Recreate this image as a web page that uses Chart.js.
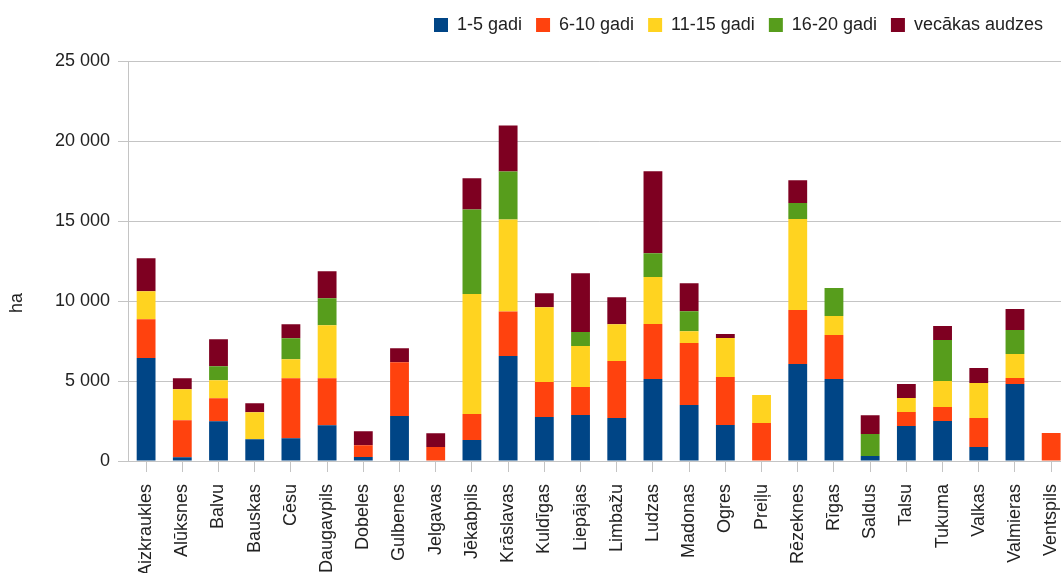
<!DOCTYPE html>
<html>
<head>
<meta charset="utf-8">
<script src="https://cdn.jsdelivr.net/npm/chart.js@4.4.1/dist/chart.umd.min.js"></script>
<style>
  html, body { margin: 0; padding: 0; background: #ffffff; }
  #wrap { width: 1061px; height: 573px; overflow: hidden; position: relative; }
  canvas { display: block; }
</style>
</head>
<body>
<div id="wrap"><canvas id="chart" width="1085" height="573"></canvas></div>
<script>
// Meža platība (ha) pa vecuma grupām un virsmežniecībām
const categories = ['Aizkraukles', 'Alūksnes', 'Balvu', 'Bauskas', 'Cēsu', 'Daugavpils', 'Dobeles',
  'Gulbenes', 'Jelgavas', 'Jēkabpils', 'Krāslavas', 'Kuldīgas', 'Liepājas', 'Limbažu', 'Ludzas',
  'Madonas', 'Ogres', 'Preiļu', 'Rēzeknes', 'Rīgas', 'Saldus', 'Talsu', 'Tukuma', 'Valkas',
  'Valmieras', 'Ventspils'];

const age1to5   = [6440, 230, 2480, 1360, 1420, 2230, 250, 2810, 0, 1310, 6560, 2750, 2875, 2690, 5125, 3500, 2250, 0, 6060, 5125, 310, 2190, 2500, 875, 4810, 0];
const age6to10  = [2420, 2310, 1440, 0, 3750, 2940, 730, 3360, 875, 1625, 2790, 2190, 1750, 3560, 3440, 3875, 3000, 2375, 3375, 2750, 0, 875, 875, 1810, 375, 1750];
const age11to15 = [1750, 1940, 1125, 1690, 1190, 3310, 0, 0, 0, 7500, 5750, 4670, 2560, 2290, 2940, 730, 2440, 1750, 5690, 1190, 0, 875, 1625, 2190, 1500, 0];
const age16to20 = [0, 0, 875, 0, 1310, 1690, 0, 0, 0, 5290, 3000, 0, 875, 0, 1480, 1250, 0, 0, 1000, 1750, 1375, 0, 2560, 0, 1500, 0];
const older     = [2060, 690, 1690, 560, 875, 1690, 875, 875, 855, 1940, 2875, 875, 3670, 1690, 5125, 1750, 250, 0, 1420, 0, 1170, 875, 875, 940, 1310, 0];

const seriesNames = ['1-5 gadi', '6-10 gadi', '11-15 gadi', '16-20 gadi', 'vecākas audzes'];
const seriesColors = ['#004586', '#ff420e', '#ffd320', '#579d1c', '#7e0021'];
const yTicks = [0, 5000, 10000, 15000, 20000, 25000];
const yTitle = 'ha';

const FONT = '"Liberation Sans", Arial, sans-serif';
const TEXT = '#222222';
const GRID = '#c4c4c4';

Chart.defaults.font.family = FONT;
Chart.defaults.font.size = 18;
Chart.defaults.color = TEXT;

const seriesData = [age1to5, age6to10, age11to15, age16to20, older];

function groupThousands(v) {
  return String(v).replace(/\B(?=(\d{3})+(?!\d))/g, ' ');
}

// Legend sits at the top right, ending before the canvas edge
const legendPlacement = {
  id: 'legendPlacement',
  afterInit(chart) {
    const lg = chart.legend;
    const fit = lg.fit.bind(lg);
    lg.fit = function () { fit(); this.height = 61; };
  },
  afterLayout(chart) {
    const lg = chart.legend;
    const shift = 1057 - lg.right;
    lg.left += shift;
    lg.right += shift;
    lg.top += 2;
  }
};

// Vertical axis title
const axisTitle = {
  id: 'axisTitle',
  afterDraw(chart) {
    const ctx = chart.ctx;
    ctx.save();
    ctx.translate(17, 303);
    ctx.rotate(-Math.PI / 2);
    ctx.font = '18px ' + FONT;
    ctx.fillStyle = TEXT;
    ctx.textAlign = 'center';
    ctx.textBaseline = 'middle';
    ctx.fillText(yTitle, 0, 0);
    ctx.restore();
  }
};

new Chart(document.getElementById('chart'), {
  type: 'bar',
  data: {
    labels: categories,
    datasets: seriesData.map((d, i) => ({
      label: seriesNames[i],
      data: d,
      backgroundColor: seriesColors[i],
      borderWidth: 0,
      categoryPercentage: 1,
      barPercentage: 0.52
    }))
  },
  options: {
    responsive: false,
    animation: false,
    layout: { padding: { left: 0, right: 12, top: 0, bottom: 0 } },
    plugins: {
      legend: {
        position: 'top',
        align: 'end',
        labels: {
          boxWidth: 14,
          boxHeight: 14,
          padding: 14,
          color: TEXT,
          font: { size: 18, family: FONT }
        }
      },
      tooltip: { enabled: false }
    },
    scales: {
      x: {
        stacked: true,
        offset: true,
        grid: {
          offset: false,
          drawOnChartArea: false,
          drawTicks: true,
          tickLength: 11,
          color: GRID
        },
        border: { display: true, color: GRID },
        ticks: {
          autoSkip: false,
          minRotation: 90,
          maxRotation: 90,
          padding: 12,
          color: TEXT,
          font: { size: 18, family: FONT }
        },
        afterFit(scale) { scale.height = 112; }
      },
      y: {
        stacked: true,
        min: 0,
        max: 25000,
        afterBuildTicks(scale) { scale.ticks = yTicks.map(v => ({ value: v })); },
        grid: { color: GRID, tickLength: 10, drawTicks: true },
        border: { display: true, color: GRID },
        ticks: {
          padding: 8,
          color: TEXT,
          font: { size: 18, family: FONT },
          callback: v => groupThousands(v)
        },
        afterFit(scale) { scale.width = 128; }
      }
    }
  },
  plugins: [legendPlacement, axisTitle]
});
</script>
</body>
</html>
